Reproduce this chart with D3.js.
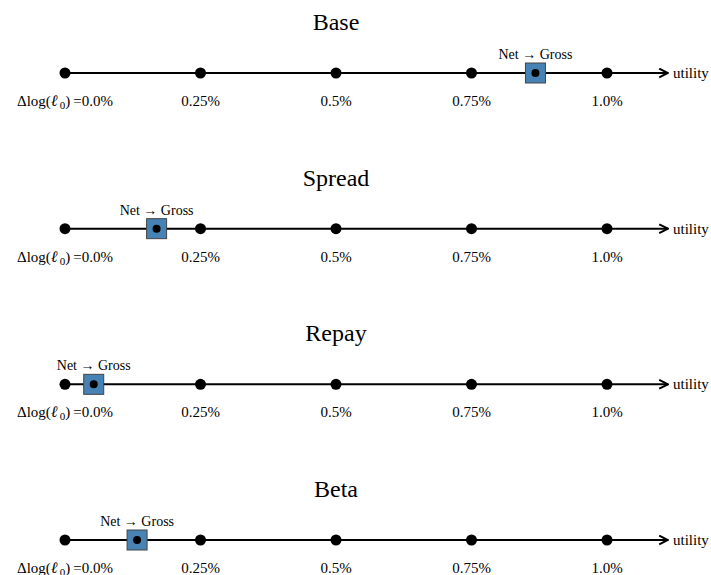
<!DOCTYPE html>
<html>
<head>
<meta charset="utf-8">
<script src="https://cdn.jsdelivr.net/npm/d3@7"></script>
<style>
  body { margin: 0; background: #fff; }
  svg { display: block; }
  text { font-family: "Liberation Serif", "DejaVu Serif", serif; fill: #000; }
</style>
</head>
<body>
<svg id="chart" width="711" height="575"></svg>
<script>
// Data
const panels = ["Base", "Spread", "Repay", "Beta"];
const tickValues = [0, 0.25, 0.5, 0.75, 1.0];
const tickLabels = ["0.0%", "0.25%", "0.5%", "0.75%", "1.0%"];
const grossValues = [0.868, 0.169, 0.053, 0.133];
const markerLabel = "Net \u2192 Gross";
const axisLabel = "utility";

const svg = d3.select("#chart");

const x = d3.scaleLinear().domain([0, 1]).range([65, 607]);
const y = d3.scalePoint().domain(panels).range([73, 540]);
const xEnd = 668;

const defs = svg.append("defs");
defs.append("marker")
  .attr("id", "arrow")
  .attr("viewBox", "0 0 10 10")
  .attr("refX", 9).attr("refY", 5)
  .attr("markerWidth", 5.5).attr("markerHeight", 5.5)
  .attr("markerUnits", "strokeWidth")
  .attr("orient", "auto")
  .append("path")
  .attr("d", "M1,1 L9,5 L1,9")
  .attr("fill", "none")
  .attr("stroke", "#000")
  .attr("stroke-width", 1.8)
  .attr("stroke-linejoin", "miter");

panels.forEach((p, i) => {
  const g = svg.append("g").attr("transform", `translate(0,${y(p)})`);

  // Title
  g.append("text")
    .attr("x", x(0.5)).attr("y", -43)
    .attr("text-anchor", "middle")
    .attr("font-size", 24)
    .text(p);

  // Axis line with arrow
  g.append("line")
    .attr("x1", x(0)).attr("x2", xEnd)
    .attr("y1", 0).attr("y2", 0)
    .attr("stroke", "#000").attr("stroke-width", 2)
    .attr("marker-end", "url(#arrow)");

  g.append("text")
    .attr("x", xEnd + 5).attr("y", 5)
    .attr("font-size", 15)
    .text(axisLabel);

  // Tick dots
  g.selectAll("circle.tick").data(tickValues).join("circle")
    .attr("class", "tick")
    .attr("cx", d => x(d)).attr("cy", 0).attr("r", 5.5)
    .attr("fill", "#000");

  // Tick labels
  g.selectAll("text.tl").data(tickValues).join("text")
    .attr("class", "tl")
    .attr("x", d => x(d)).attr("y", 33)
    .attr("text-anchor", "middle")
    .attr("font-size", 15)
    .each(function(d, j) {
      const t = d3.select(this);
      if (j === 0) {
        t.append("tspan").text("\u0394log(");
        t.append("tspan").attr("font-style", "italic").attr("font-size", 16).text("\u2113");
        t.append("tspan").attr("font-size", 11).attr("dy", 3).text("\u20090");
        t.append("tspan").attr("dy", -3).text(")\u2009=" + tickLabels[j]);
      } else {
        t.text(tickLabels[j]);
      }
    });

  // Marker square
  const gv = grossValues[i];
  g.append("rect")
    .attr("x", x(gv) - 10).attr("y", -10)
    .attr("width", 20).attr("height", 20)
    .attr("fill", "#4682b4")
    .attr("stroke", "#444").attr("stroke-width", 1);
  g.append("circle")
    .attr("cx", x(gv)).attr("cy", 0).attr("r", 4)
    .attr("fill", "#000");
  g.append("text")
    .attr("x", x(gv)).attr("y", -14)
    .attr("text-anchor", "middle")
    .attr("font-size", 14)
    .text(markerLabel);
});
</script>
</body>
</html>
